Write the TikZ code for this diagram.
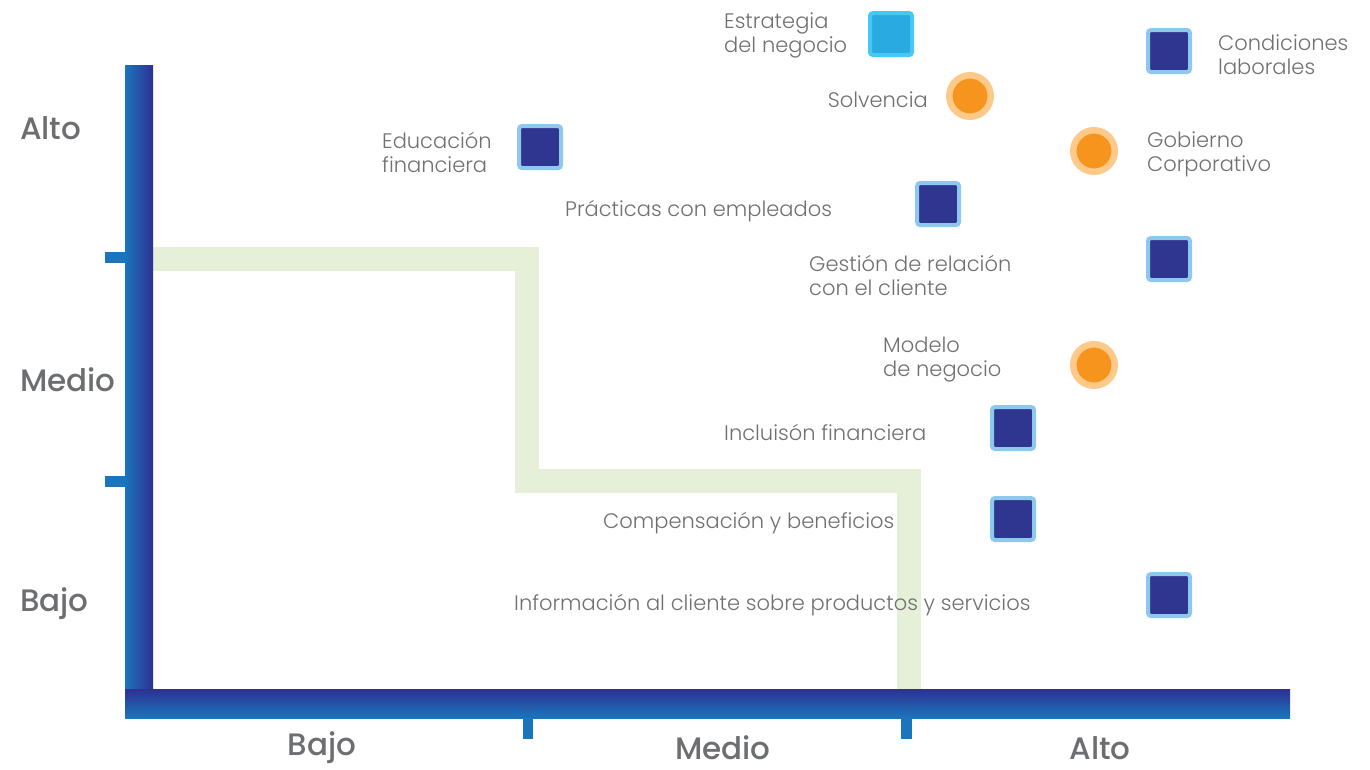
\documentclass[tikz,border=0pt]{standalone}
\usepackage{fontspec}
\setmainfont{Poppins}
\newfontfamily\labelfont{Poppins Light}
\newfontfamily\axisfont{Poppins Medium}
\definecolor{txtgray}{HTML}{707070}
\definecolor{axgray}{HTML}{6D6E71}
\definecolor{axblue}{HTML}{1B75BC}
\definecolor{axdark}{HTML}{2E3192}
\definecolor{bandgreen}{HTML}{E6EFD7}
\definecolor{sqouter}{HTML}{8EC8ED}
\definecolor{sqinner}{HTML}{2E3690}
\definecolor{cyouter}{HTML}{45C8F5}
\definecolor{cyinner}{HTML}{29ABE2}
\definecolor{orouter}{HTML}{FEC989}
\definecolor{orinner}{HTML}{F7941D}
\tikzset{
  lbl/.style={anchor=west, inner sep=0pt, align=left, text=txtgray,
    font=\labelfont\fontsize{21}{24}\selectfont},
  lblr/.style={lbl, anchor=east},
  axlbl/.style={inner sep=0pt, text=axgray, font=\axisfont\fontsize{31}{34}\selectfont},
  sqmark/.style={draw=sqouter, fill=sqinner, line width=4pt, minimum size=42pt,
    inner sep=0pt, rounded corners=3pt},
  cymark/.style={sqmark, draw=cyouter, fill=cyinner},
  ormark/.style={circle, draw=orouter, fill=orinner, line width=6.5pt,
    minimum size=41.5pt, inner sep=0pt},
  tick/.style={fill=axblue}
}
\begin{document}
\begin{tikzpicture}[x=1pt,y=-1pt]
\useasboundingbox (0,0) rectangle (1370,769);
% green band
\draw[bandgreen, line width=24pt, line join=miter, line cap=butt]
  (153,259) -- (527,259) -- (527,481) -- (909,481) -- (909,689);
% ticks
\fill[tick] (105,252) rectangle (125,263);
\fill[tick] (105,476) rectangle (125,487);
\fill[tick] (523,718) rectangle (533,739);
\fill[tick] (901,718) rectangle (912,739);
% axes
\shade[left color=axblue, right color=axdark] (125,65) rectangle (153,689);
\shade[top color=axdark, bottom color=axblue] (125,689) rectangle (1290,718);
% axis labels
\node[axlbl, anchor=west] (yalto) at (20,128) {Alto};
\node[axlbl, anchor=west] (ymedio) at (20,380) {Medio};
\node[axlbl, anchor=west] (ybajo) at (20,604) {Bajo};
\node[axlbl] (xbajo) at (322,748) {Bajo};
\node[axlbl] (xmedio) at (723,748) {Medio};
\node[axlbl] (xalto) at (1100,748) {Alto};
% markers
\node[cymark] (estr) at (891,34) {};
\node[sqmark] (cond) at (1169,51) {};
\node[ormark] (solv) at (970,96) {};
\node[sqmark] (educ) at (540,147) {};
\node[ormark] (gob) at (1094,151) {};
\node[sqmark] (prac) at (938,204) {};
\node[sqmark] (gest) at (1169,259) {};
\node[ormark] (mod) at (1094,365) {};
\node[sqmark] (incl) at (1013,428) {};
\node[sqmark] (comp) at (1013,519) {};
\node[sqmark] (info) at (1169,595) {};
% labels
\node[lbl] (lestr) at (724,35) {Estrategia\\del negocio};
\node[lbl] (lcond) at (1218,55) {Condiciones\\laborales};
\node[lblr] (lsolv) at (928,100) {Solvencia};
\node[lbl] (leduc) at (382,152) {Educación\\financiera};
\node[lbl] (lgob) at (1147,154) {Gobierno\\Corporativo};
\node[lbl] (lprac) at (565,211) {Prácticas con empleados};
\node[lbl] (lgest) at (809,275) {Gestión de relación\\con el cliente};
\node[lbl] (lmod) at (883,360) {Modelo\\de negocio};
\node[lbl] (lincl) at (724,432) {Incluisón financiera};
\node[lbl] (lcomp) at (603,523) {Compensación y beneficios};
\node[lbl] (linfo) at (514,605) {Información al cliente sobre productos y servicios};
\end{tikzpicture}
\end{document}
